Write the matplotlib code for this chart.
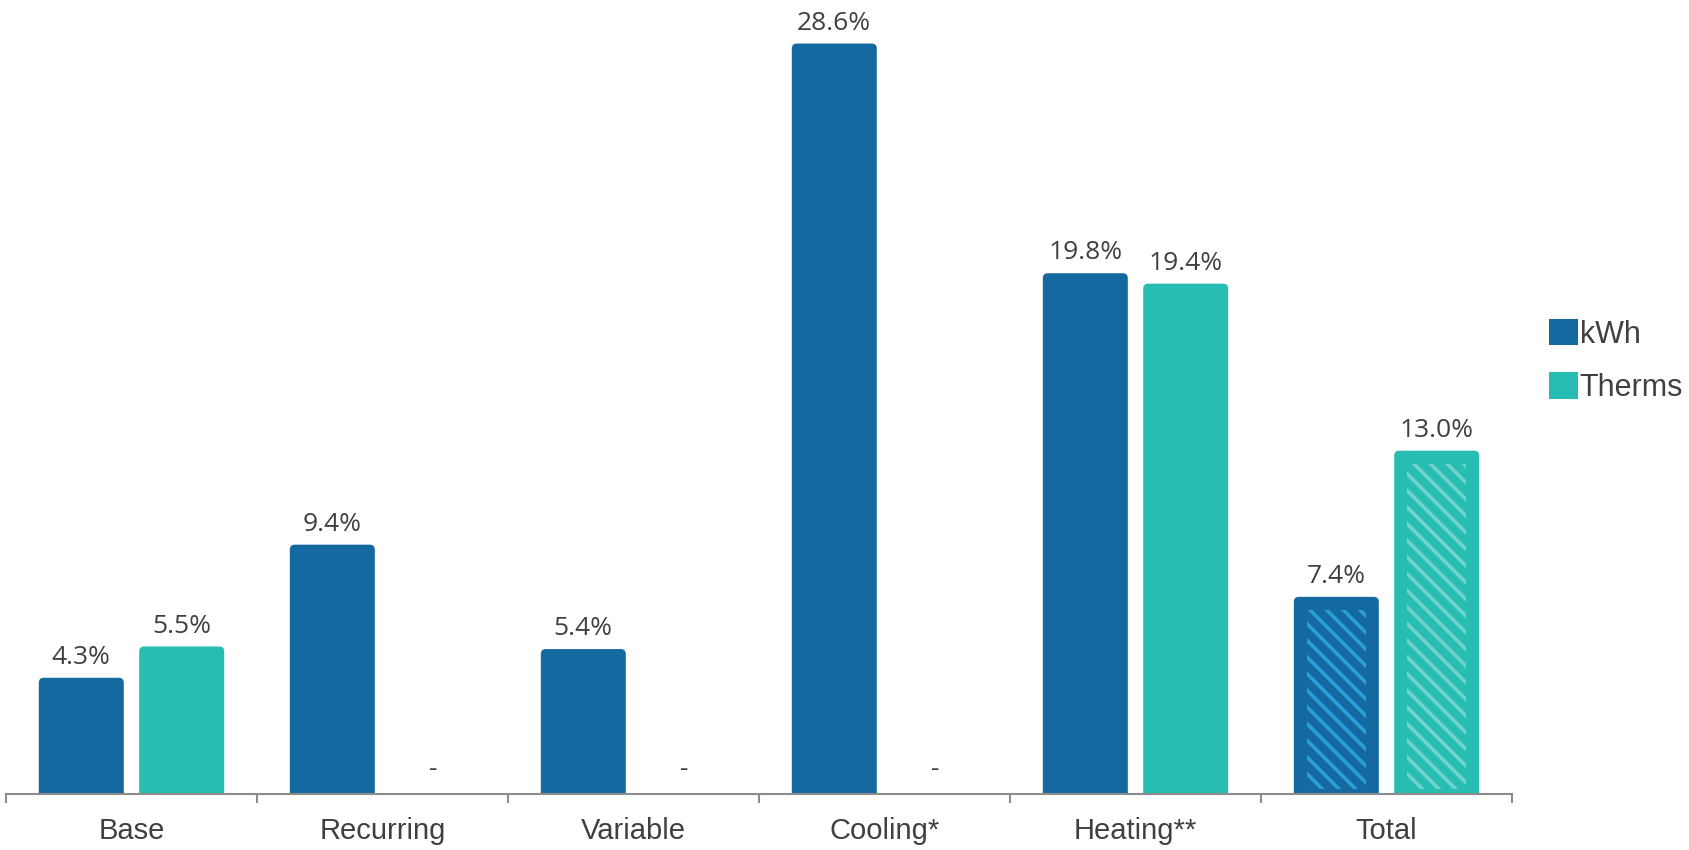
import matplotlib
matplotlib.use("Agg")
import matplotlib.pyplot as plt
from matplotlib.patches import FancyBboxPatch, Patch
import numpy as np

categories = ["Base", "Recurring", "Variable", "Cooling*", "Heating**", "Total"]
kwh = [4.3, 9.4, 5.4, 28.6, 19.8, 7.4]
therms = [5.5, None, None, None, 19.4, 13.0]
series_names = ["kWh", "Therms"]

blue = "#1469a1"
teal = "#27bdb2"
blue_hatch = "#2a9ed6"
teal_hatch = "#70d4cb"
text_col = "#404040"
axis_col = "#8c8c8c"

plt.rcParams["hatch.linewidth"] = 2.6

W, H = 1690, 850
PX_PER_UNIT = 26.1          # pixel height of 1 percentage point
ZERO_Y = 790                # pixel row of value 0
AXIS_Y = 794                # pixel row of the axis line

fig = plt.figure(figsize=(W / 100, H / 100), dpi=100)
ax = fig.add_axes([6 / W, (H - AXIS_Y) / H, 1506 / W, AXIS_Y / H])
ax.set_xlim(-0.5, len(categories) - 0.5)
ymin = -(AXIS_Y - ZERO_Y) / PX_PER_UNIT
ymax = ZERO_Y / PX_PER_UNIT
ax.set_ylim(ymin, ymax)

# one pixel in data units
xpp = len(categories) / 1506
ypp = 1 / PX_PER_UNIT
aspect = ypp / xpp

off = 0.2
width = 85 * xpp


def rounded_bar(x, h, color):
    p = FancyBboxPatch((x - width / 2, -1), width, h + 1,
                       boxstyle="round,pad=0,rounding_size=%f" % (5 * xpp),
                       mutation_aspect=aspect, facecolor=color,
                       edgecolor="none", clip_on=True)
    ax.add_patch(p)


def label(x, h, s):
    ax.annotate(s, (x, h), xytext=(0, 10), textcoords="offset points",
                ha="center", va="baseline", fontsize=19, color=text_col,
                family="Open Sans")


for i, cat in enumerate(categories):
    xk = i - off
    xt = i + off
    rounded_bar(xk, kwh[i], blue)
    label(xk, kwh[i], "%.1f%%" % kwh[i])
    if therms[i] is None:
        label(xt, 0, "-")
    else:
        rounded_bar(xt, therms[i], teal)
        label(xt, therms[i], "%.1f%%" % therms[i])
    if cat == "Total":
        # hatched inset inside the total bars
        for x, h, c, hc in [(xk, kwh[i], blue, blue_hatch),
                            (xt, therms[i], teal, teal_hatch)]:
            ax.bar(x, h - 14.5 * ypp, width=width - 26 * xpp,
                   bottom=1.5 * ypp, color=c, edgecolor=hc, linewidth=0,
                   hatch="\\\\")

for s in ["top", "right", "left"]:
    ax.spines[s].set_visible(False)
ax.spines["bottom"].set_color(axis_col)
ax.spines["bottom"].set_linewidth(1.5)
ax.set_yticks([])

ax.set_xticks(np.arange(-0.5, len(categories)), minor=False)
ax.set_xticklabels([])
ax.tick_params(axis="x", which="major", length=6.5, color=axis_col, width=1.5)
ax.set_xticks(np.arange(len(categories)), minor=True)
ax.set_xticklabels(categories, minor=True, fontsize=21, color=text_col,
                   family="Liberation Sans")
ax.tick_params(axis="x", which="minor", length=0, pad=16.5)

handles = [Patch(facecolor=blue, label=series_names[0]),
           Patch(facecolor=teal, label=series_names[1])]
leg = fig.legend(handles=handles, loc="center left",
                 bbox_to_anchor=(1549 / W, 1 - 361 / H), frameon=False,
                 borderpad=0, borderaxespad=0,
                 handlelength=0.95, handleheight=0.95, handletextpad=0.05,
                 labelspacing=0.75, prop={"family": "Liberation Sans", "size": 22})
for t in leg.get_texts():
    t.set_color(text_col)

fig.savefig("out.png", dpi=100)
